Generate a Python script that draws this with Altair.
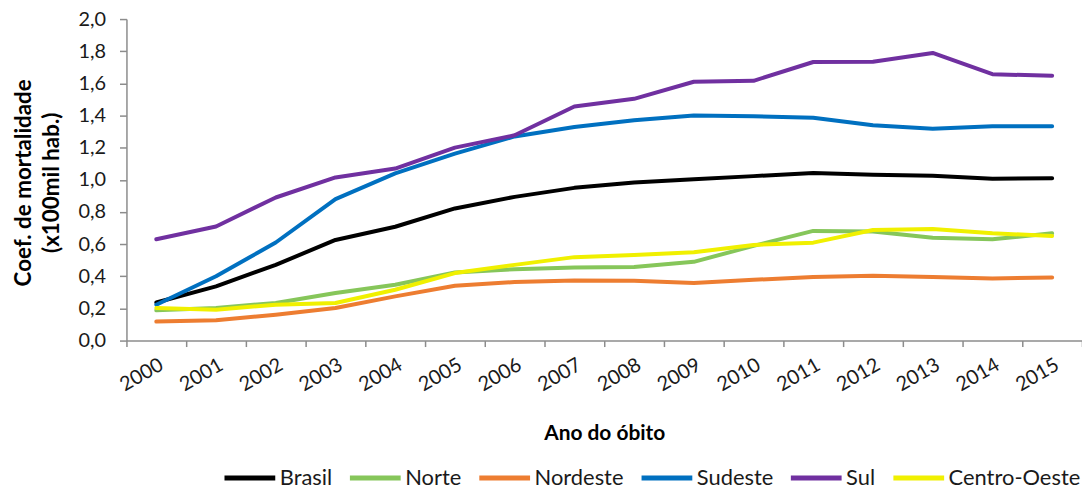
import altair as alt
import pandas as pd

years = [str(y) for y in range(2000, 2016)]
series_names = ["Brasil", "Norte", "Nordeste", "Sudeste", "Sul", "Centro-Oeste"]
colors = ["#000000", "#86C65A", "#ED7D31", "#0070C0", "#7030A0", "#F0F000"]

brasil = [0.237, 0.337, 0.471, 0.626, 0.708, 0.822, 0.894, 0.950, 0.983, 1.004, 1.023, 1.043, 1.031, 1.025, 1.006, 1.010]
norte = [0.188, 0.203, 0.234, 0.296, 0.347, 0.423, 0.444, 0.454, 0.457, 0.490, 0.589, 0.682, 0.678, 0.640, 0.630, 0.667]
nordeste = [0.118, 0.126, 0.161, 0.203, 0.275, 0.341, 0.364, 0.374, 0.372, 0.358, 0.378, 0.395, 0.403, 0.395, 0.386, 0.393]
sudeste = [0.223, 0.400, 0.610, 0.880, 1.040, 1.163, 1.270, 1.328, 1.370, 1.400, 1.396, 1.386, 1.339, 1.318, 1.333, 1.333]
sul = [0.630, 0.710, 0.890, 1.015, 1.070, 1.200, 1.277, 1.456, 1.504, 1.610, 1.616, 1.733, 1.735, 1.789, 1.657, 1.647]
centro_oeste = [0.203, 0.192, 0.223, 0.234, 0.316, 0.420, 0.471, 0.519, 0.533, 0.550, 0.595, 0.609, 0.688, 0.694, 0.667, 0.651]

y_ticks = [0.0, 0.2, 0.4, 0.6, 0.8, 1.0, 1.2, 1.4, 1.6, 1.8, 2.0]

rows = []
for name, vals in zip(series_names, [brasil, norte, nordeste, sudeste, sul, centro_oeste]):
    for yr, v in zip(years, vals):
        rows.append({"ano": yr, "serie": name, "valor": v})
df = pd.DataFrame(rows)

axis_gray = "#8C8C8C"

chart = alt.Chart(df).mark_line(strokeWidth=4, strokeCap="round", strokeJoin="round").encode(
    x=alt.X(
        "ano:O",
        sort=years,
        scale=alt.Scale(type="band", paddingInner=0, paddingOuter=0),
        bandPosition=0.5,
        axis=alt.Axis(
            title="Ano do óbito",
            tickBand="extent",
            labelAngle=-30,
            labelAlign="right",
            labelBaseline="top",
            labelPadding=8,
            labelOffset=0,
            labelFontSize=20,
            tickSize=6,
            titleFontSize=21,
            titleFontWeight="bold",
            titleY=99,
            titleBaseline="alphabetic",
        ),
    ),
    y=alt.Y(
        "valor:Q",
        scale=alt.Scale(domain=[0, 2]),
        axis=alt.Axis(
            title=["Coef. de mortalidade", "(x100mil hab.)"],
            values=y_ticks,
            labelExpr="replace(format(datum.value, '.1f'), '.', ',')",
            grid=False,
            tickSize=7,
            labelPadding=14,
            labelFontSize=20,
            titleFontSize=22.5,
            titleFontWeight="bold",
            titleLineHeight=28,
            titleAngle=-90,
            titleAlign="center",
            titleBaseline="top",
            titleX=-114,
            titleY=164,
        ),
    ),
    color=alt.Color(
        "serie:N",
        sort=series_names,
        scale=alt.Scale(domain=series_names, range=colors),
        legend=alt.Legend(
            title=None,
            orient="none",
            legendX=96,
            legendY=433,
            direction="horizontal",
            symbolType="stroke",
            symbolSize=2601,
            symbolStrokeWidth=5,
            labelFontSize=22,
            labelOffset=2,
            columnPadding=7,
        ),
    ),
    order=alt.Order("ano:O"),
).properties(
    width=960,
    height=323,
    autosize=alt.AutoSizeParams(type="none"),
    padding={"left": 119, "top": 10, "right": 0, "bottom": 147},
).configure(
    font="Lato",
).configure_view(
    stroke=None,
).configure_axis(
    domainColor=axis_gray,
    tickColor=axis_gray,
    domainWidth=1.5,
    tickWidth=1.5,
    labelColor="#1a1a1a",
    titleColor="#000000",
    labelFont="Lato",
    titleFont="Lato",
).configure_legend(
    labelColor="#1a1a1a",
    labelFont="Lato",
)

chart.save("out.html", embed_options={"renderer": "svg", "actions": False})
